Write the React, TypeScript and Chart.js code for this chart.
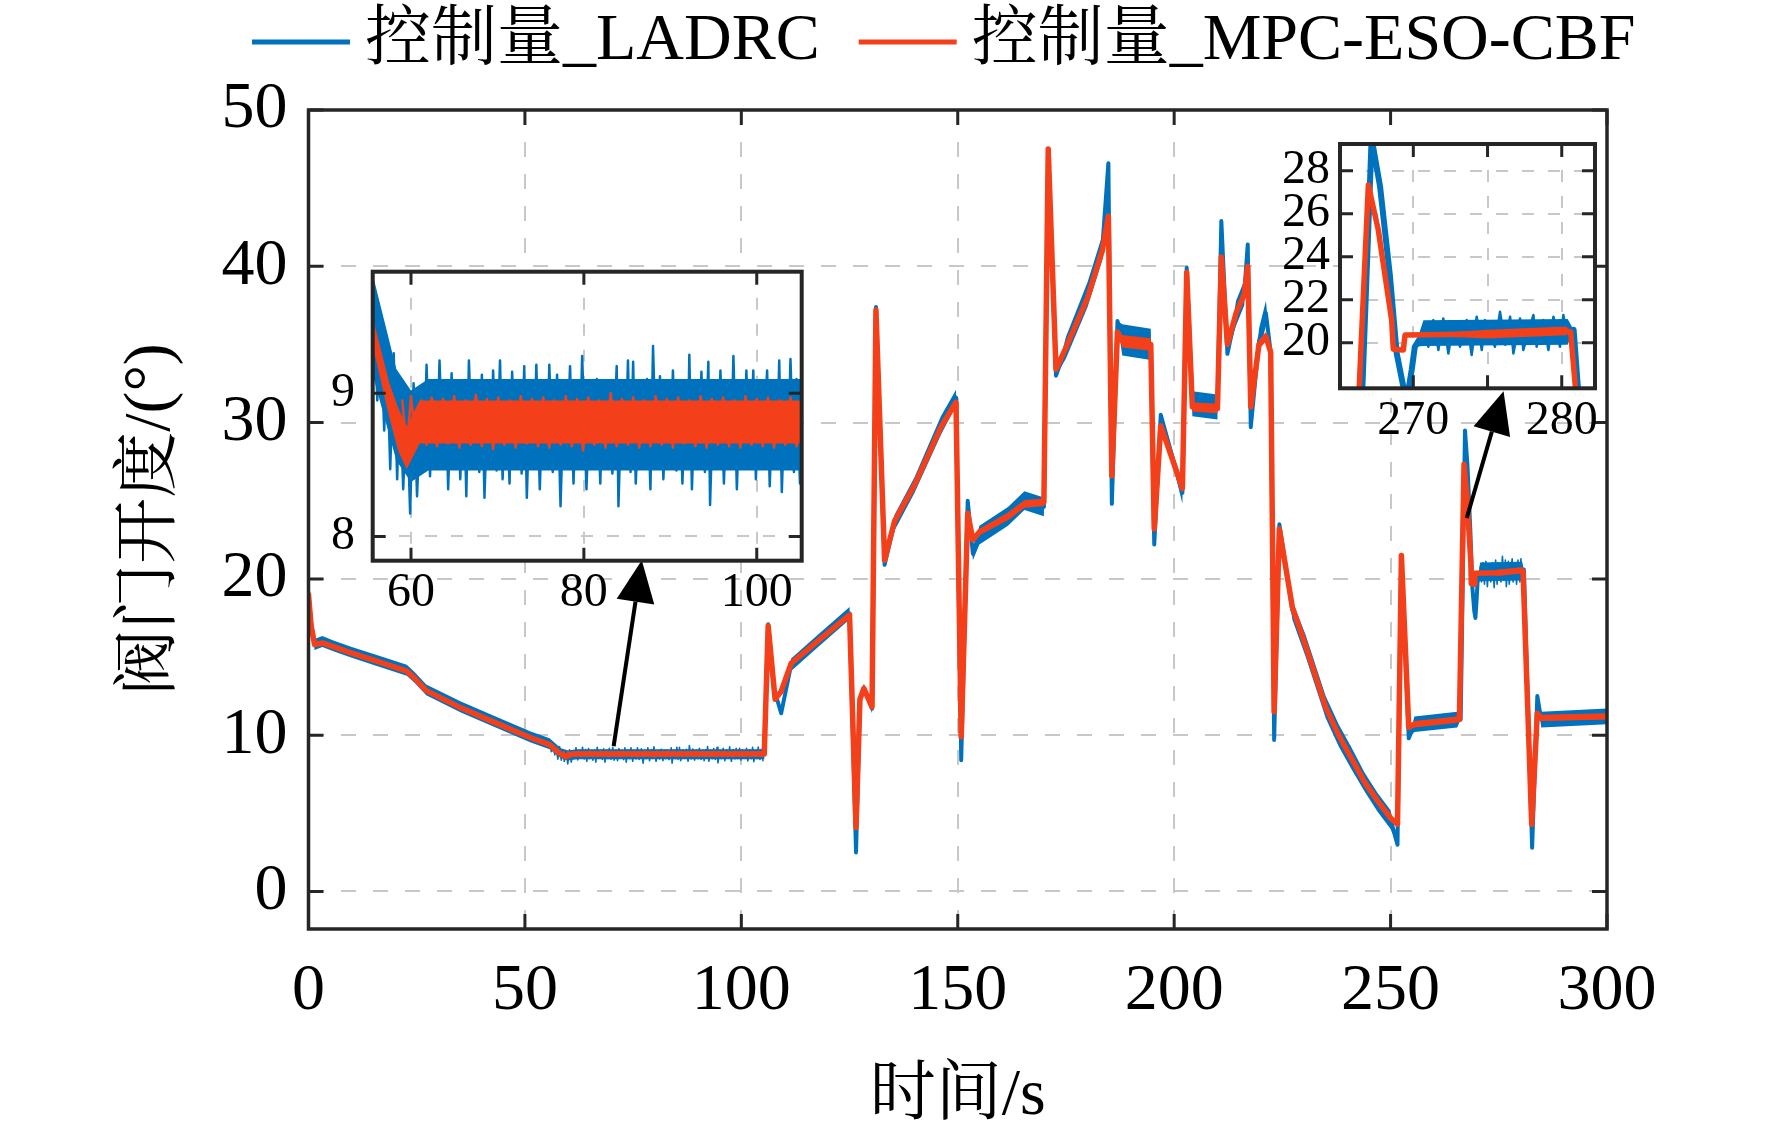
import { useEffect, useRef } from 'react';
import { Chart, registerables } from 'chart.js';

Chart.register(...registerables);

const FONT = '"Liberation Serif", "Noto Serif CJK SC", "Noto Sans CJK SC", serif';
const BLUE = '#0072BD';
const RED = '#F4401A';
const AXIS = '#262626';
const GRID = '#c8c8c8';

const seriesNames = ['控制量_LADRC', '控制量_MPC-ESO-CBF'];
const seriesColors = [BLUE, RED];
const xTitle = '时间/s';
const yTitle = '阀门开度/(°)';

const mainXTicks = [0, 50, 100, 150, 200, 250, 300];
const mainYTicks = [0, 10, 20, 30, 40, 50];
const inset1XTicks = [60, 80, 100];
const inset1YTicks = [8, 9];
const inset2XTicks = [270, 275, 280];
const inset2XLabels = [270, 280];
const inset2YTicks = [20, 22, 24, 26, 28];

// LADRC control signal: time, value, noise half-width
const ladrcT = [0, 0.6, 1.4, 3.2, 5.9, 10, 15.6, 22.7, 24.5, 27.2, 35.2, 42.3, 51.2, 55.7, 58.3, 60, 62, 105.3, 106.2, 107.5, 109.2, 111.5, 118, 125, 126.5, 127.4, 128.3, 130.2, 131.1, 133.1, 135.4, 140, 146.1, 149.6, 150.8, 152.3, 153.5, 155, 161.6, 165.4, 169.9, 170.9, 172.7, 175, 180, 183.4, 184.8, 185.6, 186.9, 188, 194.6, 195.4, 196.9, 201.9, 202.9, 204.2, 210, 210.9, 212.3, 214.3, 216.2, 217, 217.7, 219.6, 221.2, 222.3, 223.1, 224.3, 227.3, 230.4, 235, 238, 241, 244, 247, 250, 251.6, 252.5, 254.2, 255.5, 265.4, 266.2, 267.19, 267.76, 268.43, 268.88, 269.33, 269.6, 269.89, 270.1, 270.68, 280.4, 280.8, 282.7, 283.9, 284.8, 300];
const ladrcV = [19.0, 17.2, 15.8, 16.0, 15.7, 15.3, 14.8, 14.15, 13.7, 12.9, 11.8, 10.95, 9.9, 9.45, 8.85, 8.7, 8.78, 8.78, 17.1, 13.0, 11.4, 14.5, 16.1, 17.8, 2.5, 12.3, 13.0, 11.7, 37.4, 20.9, 23.6, 26.0, 29.8, 31.6, 8.4, 25.0, 21.6, 22.8, 24.0, 25.0, 24.6, 47.5, 33.0, 34.8, 38.2, 41.2, 46.6, 24.8, 36.5, 35.3, 35.0, 22.2, 30.5, 25.5, 39.9, 31.2, 31.0, 42.9, 34.4, 37.0, 38.3, 41.4, 29.7, 35.2, 37.0, 34.5, 9.7, 23.5, 18.0, 15.7, 11.8, 10.0, 8.5, 7.0, 5.7, 4.6, 3.0, 21.5, 9.8, 10.7, 11.0, 11.0, 29.5, 27.26, 23.07, 19.5, 17.95, 17.5, 18.73, 19.81, 20.45, 20.5, 20.6, 2.8, 12.5, 11.0, 11.2];
const ladrcN = [0, 0, 0.35, 0.35, 0.35, 0.35, 0.35, 0.35, 0.35, 0.35, 0.35, 0.35, 0.35, 0.35, 0.32, 0.32, 0.32, 0.32, 0, 0, 0, 0.4, 0.4, 0.4, 0, 0, 0.3, 0.3, 0, 0, 0.5, 0.5, 0.6, 0.5, 0, 0, 0.4, 0.6, 0.6, 0.6, 0.6, 0, 0, 0.7, 0.8, 0.8, 0, 0, 0, 1.0, 1.0, 0, 0, 0.7, 0, 0.8, 0.8, 0, 0, 0.8, 0.8, 0, 0, 0.8, 0.8, 0, 0, 0, 0.6, 0.7, 0.7, 0.7, 0.7, 0.6, 0.6, 0.6, 0, 0, 0, 0.5, 0.5, 0, 0, 0, 0, 0, 0, 0, 0, 0, 0.6, 0.6, 0, 0, 0, 0.5, 0.5];

// MPC-ESO-CBF control signal: time, value, noise half-width
const mpcT = [0, 0.6, 1.4, 3.2, 5.9, 10, 15.6, 22.7, 24.5, 27.2, 35.2, 42.3, 51.2, 55.7, 57.5, 58.5, 59.5, 61, 105.3, 106.2, 107.8, 109.2, 111.5, 118, 125, 126.5, 127.4, 128.3, 130.2, 131.1, 133.1, 135.4, 140, 146.1, 149.6, 150.8, 152.3, 153.5, 155, 161.6, 165.4, 169.9, 170.9, 172.7, 175, 180, 183.4, 184.8, 185.6, 186.9, 188, 194.6, 195.4, 196.9, 201.9, 202.9, 204.2, 210, 210.9, 212.3, 214.3, 216.2, 217, 217.7, 219.6, 221.2, 222.3, 223.1, 224.3, 227.3, 230.4, 235, 238, 241, 244, 247, 250, 251.6, 252.5, 254.2, 255.5, 265.4, 265.9, 266.97, 267.64, 268.54, 268.65, 269.33, 269.44, 275, 280.3, 280.6, 282.6, 283.9, 284.8, 300];
const mpcV = [19.0, 17.0, 15.8, 15.9, 15.65, 15.25, 14.75, 14.1, 13.65, 12.85, 11.75, 10.9, 9.85, 9.4, 8.95, 8.75, 8.62, 8.8, 8.8, 17.0, 12.3, 12.8, 14.6, 16.1, 17.7, 4.1, 12.3, 13.0, 11.8, 37.2, 21.2, 23.7, 26.0, 29.7, 31.3, 9.9, 24.2, 22.5, 23.0, 24.0, 24.8, 24.9, 47.5, 33.4, 34.8, 38.0, 41.0, 43.2, 26.6, 35.8, 35.2, 35.0, 23.2, 29.8, 25.8, 39.6, 31.0, 30.9, 40.6, 35.0, 37.0, 38.2, 40.0, 31.0, 35.0, 35.5, 34.5, 11.5, 23.2, 18.2, 15.7, 11.8, 10.0, 8.5, 7.0, 5.8, 4.7, 4.3, 21.5, 10.5, 10.7, 11.0, 11.0, 27.33, 25.24, 21.05, 19.7, 19.66, 20.36, 20.4, 20.55, 20.5, 4.3, 11.4, 11.1, 11.2];
const mpcN = [0, 0, 0.1, 0.1, 0.1, 0.1, 0.1, 0.1, 0.1, 0.1, 0.1, 0.1, 0.1, 0.1, 0.12, 0.15, 0.15, 0.15, 0.15, 0, 0, 0, 0.15, 0.15, 0.15, 0, 0, 0.1, 0.1, 0, 0, 0.2, 0.2, 0.2, 0.2, 0, 0, 0.2, 0.2, 0.25, 0.25, 0.25, 0, 0, 0.25, 0.3, 0.3, 0, 0, 0, 0.4, 0.4, 0, 0, 0.3, 0, 0.3, 0.3, 0, 0, 0.3, 0.3, 0, 0, 0.3, 0.3, 0, 0, 0, 0.25, 0.25, 0.25, 0.25, 0.25, 0.25, 0.25, 0.25, 0, 0, 0, 0.2, 0.2, 0, 0, 0, 0, 0, 0, 0, 0.2, 0.2, 0, 0, 0, 0.2, 0.2];

// LADRC noise excursions read in the 56–105 s window
const ladrcSpike1T = [55.7, 56.1, 56.5, 56.9, 57.2, 57.6, 58.0, 58.4, 58.7, 59.1,
  59.5, 59.9, 60.3, 60.7, 61.2, 61.5, 61.8, 62.2, 62.6, 63.0,
  63.3, 63.7, 64.0, 64.3, 64.7, 65.0, 65.4, 65.7, 66.1, 66.4,
  66.7, 67.1, 67.5, 67.9, 68.2, 68.5, 68.9, 69.2, 69.5, 69.9,
  70.3, 70.6, 71.0, 71.4, 71.7, 72.1, 72.5, 72.8, 73.1, 73.4,
  73.8, 74.2, 74.5, 74.9, 75.3, 75.7, 76.0, 76.4, 76.9, 77.3,
  77.7, 78.0, 78.4, 78.8, 79.2, 79.5, 79.8, 80.3, 80.7, 81.1,
  81.5, 81.9, 82.2, 82.5, 82.9, 83.3, 83.8, 84.0, 84.4, 84.8,
  85.1, 85.4, 85.7, 86.0, 86.5, 86.9, 87.3, 87.7, 88.0, 88.4,
  88.8, 89.2, 89.6, 90.0, 90.3, 90.7, 91.1, 91.4, 91.8, 92.0,
  92.2, 92.5, 92.9, 93.3, 93.6, 94.0, 94.4, 94.6, 95.0, 95.4,
  95.8, 96.2, 96.6, 97.0, 97.3, 97.7, 98.1, 98.5, 98.8, 99.2,
  99.6, 99.9, 100.3, 100.7, 101.2, 101.5, 101.9, 102.3, 102.6, 102.9,
  103.3, 103.6, 103.9, 104.3, 104.6, 105.0];
const ladrcSpike1V = [9.65, 8.95, 9.45, 8.74, 9.30, 8.47, 9.28, 8.40, 9.05, 8.33,
  8.98, 8.16, 9.07, 8.28, 9.02, 8.52, 9.20, 8.42, 9.05, 8.55,
  9.23, 8.48, 9.08, 8.33, 9.14, 8.50, 9.02, 8.40, 9.05, 8.28,
  9.23, 8.52, 9.06, 8.45, 9.13, 8.27, 9.04, 8.50, 9.16, 8.46,
  9.23, 8.40, 9.05, 8.37, 9.15, 8.52, 9.04, 8.44, 9.19, 8.27,
  9.07, 8.50, 9.20, 8.33, 9.05, 8.48, 9.20, 8.45, 9.13, 8.21,
  9.04, 8.50, 9.19, 8.37, 9.08, 8.52, 9.26, 8.33, 9.03, 8.48,
  9.10, 8.37, 9.05, 8.50, 9.07, 8.44, 9.19, 8.21, 9.05, 8.50,
  9.23, 8.45, 9.22, 8.37, 9.06, 8.52, 9.10, 8.33, 9.33, 8.48,
  9.12, 8.40, 9.05, 8.50, 9.16, 8.46, 9.05, 8.37, 9.08, 8.55,
  9.27, 8.33, 9.05, 8.50, 9.15, 8.45, 9.22, 8.22, 9.04, 8.50,
  9.16, 8.37, 9.06, 8.52, 9.26, 8.33, 9.08, 8.48, 9.16, 8.50,
  9.16, 8.40, 9.05, 8.52, 9.16, 8.35, 9.07, 8.50, 9.23, 8.31,
  9.05, 8.50, 9.24, 8.45, 9.10, 8.37];

// LADRC noise excursions read in the 270–280 s window
const ladrcSpike2T = [270.7, 271.01, 271.35, 271.69, 272.02, 272.36, 272.70, 273.15, 273.60, 273.93, 274.27, 274.61, 274.83, 275.50, 275.84, 276.2, 276.52, 276.74, 277.19, 277.41, 278.09, 278.31, 278.76, 279.10, 279.44, 279.88, 280.11, 280.4];
const ladrcSpike2V = [20.74, 19.81, 21.05, 19.66, 21.13, 19.50, 20.90, 19.81, 21.05, 19.43, 21.21, 19.66, 21.05, 19.81, 21.44, 19.9, 21.21, 19.50, 21.13, 19.66, 21.29, 19.81, 21.05, 19.66, 21.21, 19.81, 21.29, 20.2];

// MPC-ESO-CBF noise excursions in the 59–105 s window
const mpcSpike1T = [59.0, 59.5, 60.0, 60.6, 61.2, 61.8, 62.4, 63.0, 63.7, 64.3,
  65.0, 65.6, 66.3, 66.9, 67.5, 68.2, 68.8, 69.5, 70.1, 70.8,
  71.4, 72.1, 72.7, 73.4, 74.0, 74.7, 75.3, 76.0, 76.6, 77.3,
  77.9, 78.6, 79.2, 79.9, 80.5, 81.2, 81.8, 82.5, 83.1, 83.8,
  84.4, 85.1, 85.7, 86.4, 87.0, 87.7, 88.3, 89.0, 89.6, 90.3,
  90.9, 91.6, 92.2, 92.9, 93.5, 94.2, 94.8, 95.5, 96.1, 96.8,
  97.4, 98.1, 98.7, 99.4, 100.0, 100.7, 101.3, 102.0, 102.6, 103.3,
  103.9, 104.6, 105.1];
const mpcSpike1V = [8.95, 8.60, 8.98, 8.62, 8.95, 8.64, 8.97, 8.63, 8.96, 8.65,
  8.98, 8.62, 8.95, 8.64, 8.99, 8.63, 8.96, 8.61, 8.97, 8.64,
  8.95, 8.62, 8.98, 8.65, 8.96, 8.63, 8.97, 8.62, 8.95, 8.64,
  8.98, 8.63, 8.96, 8.60, 8.97, 8.64, 8.95, 8.62, 9.00, 8.63,
  8.96, 8.64, 8.97, 8.62, 8.95, 8.63, 8.98, 8.64, 8.96, 8.62,
  8.97, 8.65, 8.95, 8.63, 8.98, 8.62, 8.96, 8.64, 8.97, 8.63,
  8.95, 8.62, 8.98, 8.64, 8.96, 8.63, 8.97, 8.62, 8.95, 8.64,
  8.97, 8.63, 8.90];

// annotation arrows (data coordinates of the main axes)
const arrowFromX = [70.5, 267.6];
const arrowFromY = [9.3, 23.9];
const arrowToX = [77.0, 276.1];
const arrowToY = [21.2, 32.0];

const pts = (t: number[], v: number[]) => t.map((x, i) => ({ x, y: v[i] }));
const bandPts = (t: number[], v: number[], n: number[], s: number) =>
  t.map((x, i) => ({ x, y: v[i] + s * n[i] }));

function makeDatasets(w: { blue: number; red: number; spike: number; redSpike: number }) {
  const base: any = {
    pointRadius: 0, pointHoverRadius: 0, tension: 0, clip: 0,
    borderJoinStyle: 'round', borderCapStyle: 'round', fill: false,
  };
  const clear = 'rgba(0,0,0,0)';
  return [
    { ...base, label: 'mpcHi', data: bandPts(mpcT, mpcV, mpcN, 1), borderColor: clear, borderWidth: 1, order: 6 },
    { ...base, label: 'mpcLo', data: bandPts(mpcT, mpcV, mpcN, -1), borderColor: clear, borderWidth: 1, fill: '-1', backgroundColor: RED, order: 5 },
    { ...base, label: seriesNames[1], data: pts(mpcT, mpcV), borderColor: RED, borderWidth: w.red, order: 4 },
    { ...base, label: 'mpcNoise', data: pts(mpcSpike1T, mpcSpike1V), borderColor: RED, borderWidth: w.redSpike, order: 3 },
    { ...base, label: 'ladrcHi', data: bandPts(ladrcT, ladrcV, ladrcN, 1), borderColor: clear, borderWidth: 1, order: 10 },
    { ...base, label: 'ladrcLo', data: bandPts(ladrcT, ladrcV, ladrcN, -1), borderColor: clear, borderWidth: 1, fill: '-1', backgroundColor: BLUE, order: 9 },
    { ...base, label: seriesNames[0], data: pts(ladrcT, ladrcV), borderColor: BLUE, borderWidth: w.blue, order: 8 },
    { ...base, label: 'ladrcNoise1', data: pts(ladrcSpike1T, ladrcSpike1V), borderColor: BLUE, borderWidth: w.spike, order: 7 },
    { ...base, label: 'ladrcNoise2', data: pts(ladrcSpike2T, ladrcSpike2V), borderColor: BLUE, borderWidth: w.spike, order: 7 },
  ];
}

const framePlugin = {
  id: 'frame',
  beforeDraw(chart: any, _a: any, opts: any) {
    if (!opts.whiteArea) return;
    const { ctx, chartArea: a } = chart;
    ctx.save();
    ctx.fillStyle = '#ffffff';
    ctx.fillRect(a.left, a.top, a.right - a.left, a.bottom - a.top);
    ctx.restore();
  },
  afterDraw(chart: any, _a: any, opts: any) {
    const { ctx, chartArea: a, scales } = chart;
    const len = opts.tickLen;
    ctx.save();
    ctx.strokeStyle = AXIS;
    ctx.lineWidth = opts.tickWidth;
    ctx.beginPath();
    for (const t of scales.x.ticks) {
      const px = scales.x.getPixelForValue(t.value);
      ctx.moveTo(px, a.bottom); ctx.lineTo(px, a.bottom - len);
      ctx.moveTo(px, a.top); ctx.lineTo(px, a.top + len);
    }
    for (const t of scales.y.ticks) {
      const py = scales.y.getPixelForValue(t.value);
      ctx.moveTo(a.left, py); ctx.lineTo(a.left + len, py);
      ctx.moveTo(a.right, py); ctx.lineTo(a.right - len, py);
    }
    ctx.stroke();
    ctx.lineWidth = opts.boxWidth;
    ctx.strokeRect(a.left, a.top, a.right - a.left, a.bottom - a.top);
    ctx.restore();
  },
};

const arrowPlugin = {
  id: 'arrows',
  afterDatasetsDraw(chart: any) {
    const { ctx, scales: { x, y } } = chart;
    for (let i = 0; i < arrowFromX.length; i++) {
      const x0 = x.getPixelForValue(arrowFromX[i]);
      const y0 = y.getPixelForValue(arrowFromY[i]);
      const x1 = x.getPixelForValue(arrowToX[i]);
      const y1 = y.getPixelForValue(arrowToY[i]);
      const ang = Math.atan2(y1 - y0, x1 - x0);
      const headLen = 42, headHalf = 19;
      const bx = x1 - headLen * Math.cos(ang);
      const by = y1 - headLen * Math.sin(ang);
      ctx.save();
      ctx.strokeStyle = '#000';
      ctx.fillStyle = '#000';
      ctx.lineWidth = 4;
      ctx.beginPath(); ctx.moveTo(x0, y0); ctx.lineTo(bx, by); ctx.stroke();
      ctx.beginPath();
      ctx.moveTo(x1, y1);
      ctx.lineTo(bx + headHalf * Math.sin(ang), by - headHalf * Math.cos(ang));
      ctx.lineTo(bx - headHalf * Math.sin(ang), by + headHalf * Math.cos(ang));
      ctx.closePath(); ctx.fill();
      ctx.restore();
    }
  },
};

const legendPlugin = {
  id: 'topLegend',
  afterDraw(chart: any) {
    const { ctx } = chart;
    ctx.save();
    ctx.font = `66px ${FONT}`;
    ctx.textBaseline = 'middle';
    ctx.textAlign = 'left';
    let xp = 252;
    const yp = 42;
    seriesNames.forEach((name, i) => {
      ctx.strokeStyle = seriesColors[i];
      ctx.lineWidth = 5;
      ctx.beginPath(); ctx.moveTo(xp, yp); ctx.lineTo(xp + 98, yp); ctx.stroke();
      ctx.fillStyle = '#000';
      ctx.fillText(name, xp + 113, yp);
      xp += 113 + ctx.measureText(name).width + 39;
    });
    ctx.restore();
  },
};

function linAxis(o: any) {
  return {
    type: 'linear',
    min: o.min,
    max: o.max,
    afterBuildTicks: (s: any) => { s.ticks = o.ticks.map((v: number) => ({ value: v })); },
    afterFit: (s: any) => {
      if (o.width !== undefined) s.width = o.width;
      if (o.height !== undefined) s.height = o.height;
      s.paddingTop = 0; s.paddingBottom = 0; s.paddingLeft = 0; s.paddingRight = 0;
    },
    grid: { color: GRID, lineWidth: 2, drawTicks: false },
    border: { display: false, dash: o.dash },
    ticks: {
      font: { family: FONT, size: o.font },
      color: '#000',
      padding: o.pad,
      maxRotation: 0,
      minRotation: 0,
      autoSkip: false,
      callback: o.labels ? (v: number) => (o.labels.includes(v) ? String(v) : '') : (v: number) => String(v),
    },
    title: o.title
      ? { display: true, text: o.title, font: { family: FONT, size: 66 }, color: '#000', padding: o.titlePad }
      : { display: false },
  };
}

function mainConfig(): any {
  return {
    type: 'line',
    data: { datasets: makeDatasets({ blue: 4, red: 5.5, spike: 1.6, redSpike: 1.6 }) },
    options: {
      responsive: false, animation: false, devicePixelRatio: 1, events: [],
      layout: { padding: { left: 0, top: 110, right: 165, bottom: 0 } },
      plugins: {
        legend: { display: false }, tooltip: { enabled: false },
        frame: { tickLen: 15, tickWidth: 3, boxWidth: 3.5, whiteArea: false },
      },
      scales: {
        x: linAxis({ min: 0, max: 300, ticks: mainXTicks, height: 209, font: 66, pad: 23, dash: [15, 17], title: xTitle, titlePad: { top: 0, bottom: 2 } }),
        y: linAxis({ min: -2.4, max: 50, ticks: mainYTicks, width: 308.5, font: 66, pad: 21, dash: [15, 17], title: yTitle, titlePad: { top: 112, bottom: 0 } }),
      },
    },
    plugins: [framePlugin, arrowPlugin, legendPlugin],
  };
}

function insetConfig(o: any): any {
  return {
    type: 'line',
    data: { datasets: makeDatasets(o.widths) },
    options: {
      responsive: false, animation: false, devicePixelRatio: 1, events: [],
      layout: { padding: { left: 0, top: o.padTop, right: o.padRight, bottom: 0 } },
      plugins: {
        legend: { display: false }, tooltip: { enabled: false },
        frame: { tickLen: 13, tickWidth: 3, boxWidth: 4, whiteArea: true },
      },
      scales: {
        x: linAxis({ min: o.xMin, max: o.xMax, ticks: o.xTicks, labels: o.xLabels, height: o.xHeight, font: 48, pad: o.xPad, dash: [12, 14] }),
        y: linAxis({ min: o.yMin, max: o.yMax, ticks: o.yTicks, width: o.yWidth, font: 48, pad: o.yPad, dash: [12, 14] }),
      },
    },
    plugins: [framePlugin],
  };
}

export default function App() {
  const mainRef = useRef<HTMLCanvasElement>(null);
  const in1Ref = useRef<HTMLCanvasElement>(null);
  const in2Ref = useRef<HTMLCanvasElement>(null);

  useEffect(() => {
    const charts = [
      new Chart(mainRef.current as HTMLCanvasElement, mainConfig()),
      new Chart(in1Ref.current as HTMLCanvasElement, insetConfig({
        widths: { blue: 3, red: 4, spike: 2.5, redSpike: 2.5 },
        padTop: 21.7, padRight: 18.3, xHeight: 69.3, yWidth: 72.7,
        xMin: 55.57, xMax: 105.2, yMin: 7.83, yMax: 9.85,
        xTicks: inset1XTicks, yTicks: inset1YTicks, xPad: 3.5, yPad: 17.7,
      })),
      new Chart(in2Ref.current as HTMLCanvasElement, insetConfig({
        widths: { blue: 6, red: 5.5, spike: 2.5, redSpike: 2.5 },
        padTop: 24, padRight: 25, xHeight: 71.7, yWidth: 100,
        xMin: 265.06, xMax: 282.24, yMin: 17.88, yMax: 29.24,
        xTicks: inset2XTicks, xLabels: inset2XLabels, yTicks: inset2YTicks, xPad: 4.6, yPad: 10,
      })),
    ];
    return () => charts.forEach((c) => c.destroy());
  }, []);

  return (
    <div style={{ position: 'absolute', left: 0, top: 0, width: 1772, height: 1138, background: '#ffffff', overflow: 'hidden' }}>
      <canvas ref={mainRef} width={1772} height={1138} style={{ position: 'absolute', left: 0, top: 0 }} />
      <canvas ref={in1Ref} width={520} height={380} style={{ position: 'absolute', left: 300, top: 250 }} />
      <canvas ref={in2Ref} width={380} height={340} style={{ position: 'absolute', left: 1240, top: 120 }} />
    </div>
  );
}
